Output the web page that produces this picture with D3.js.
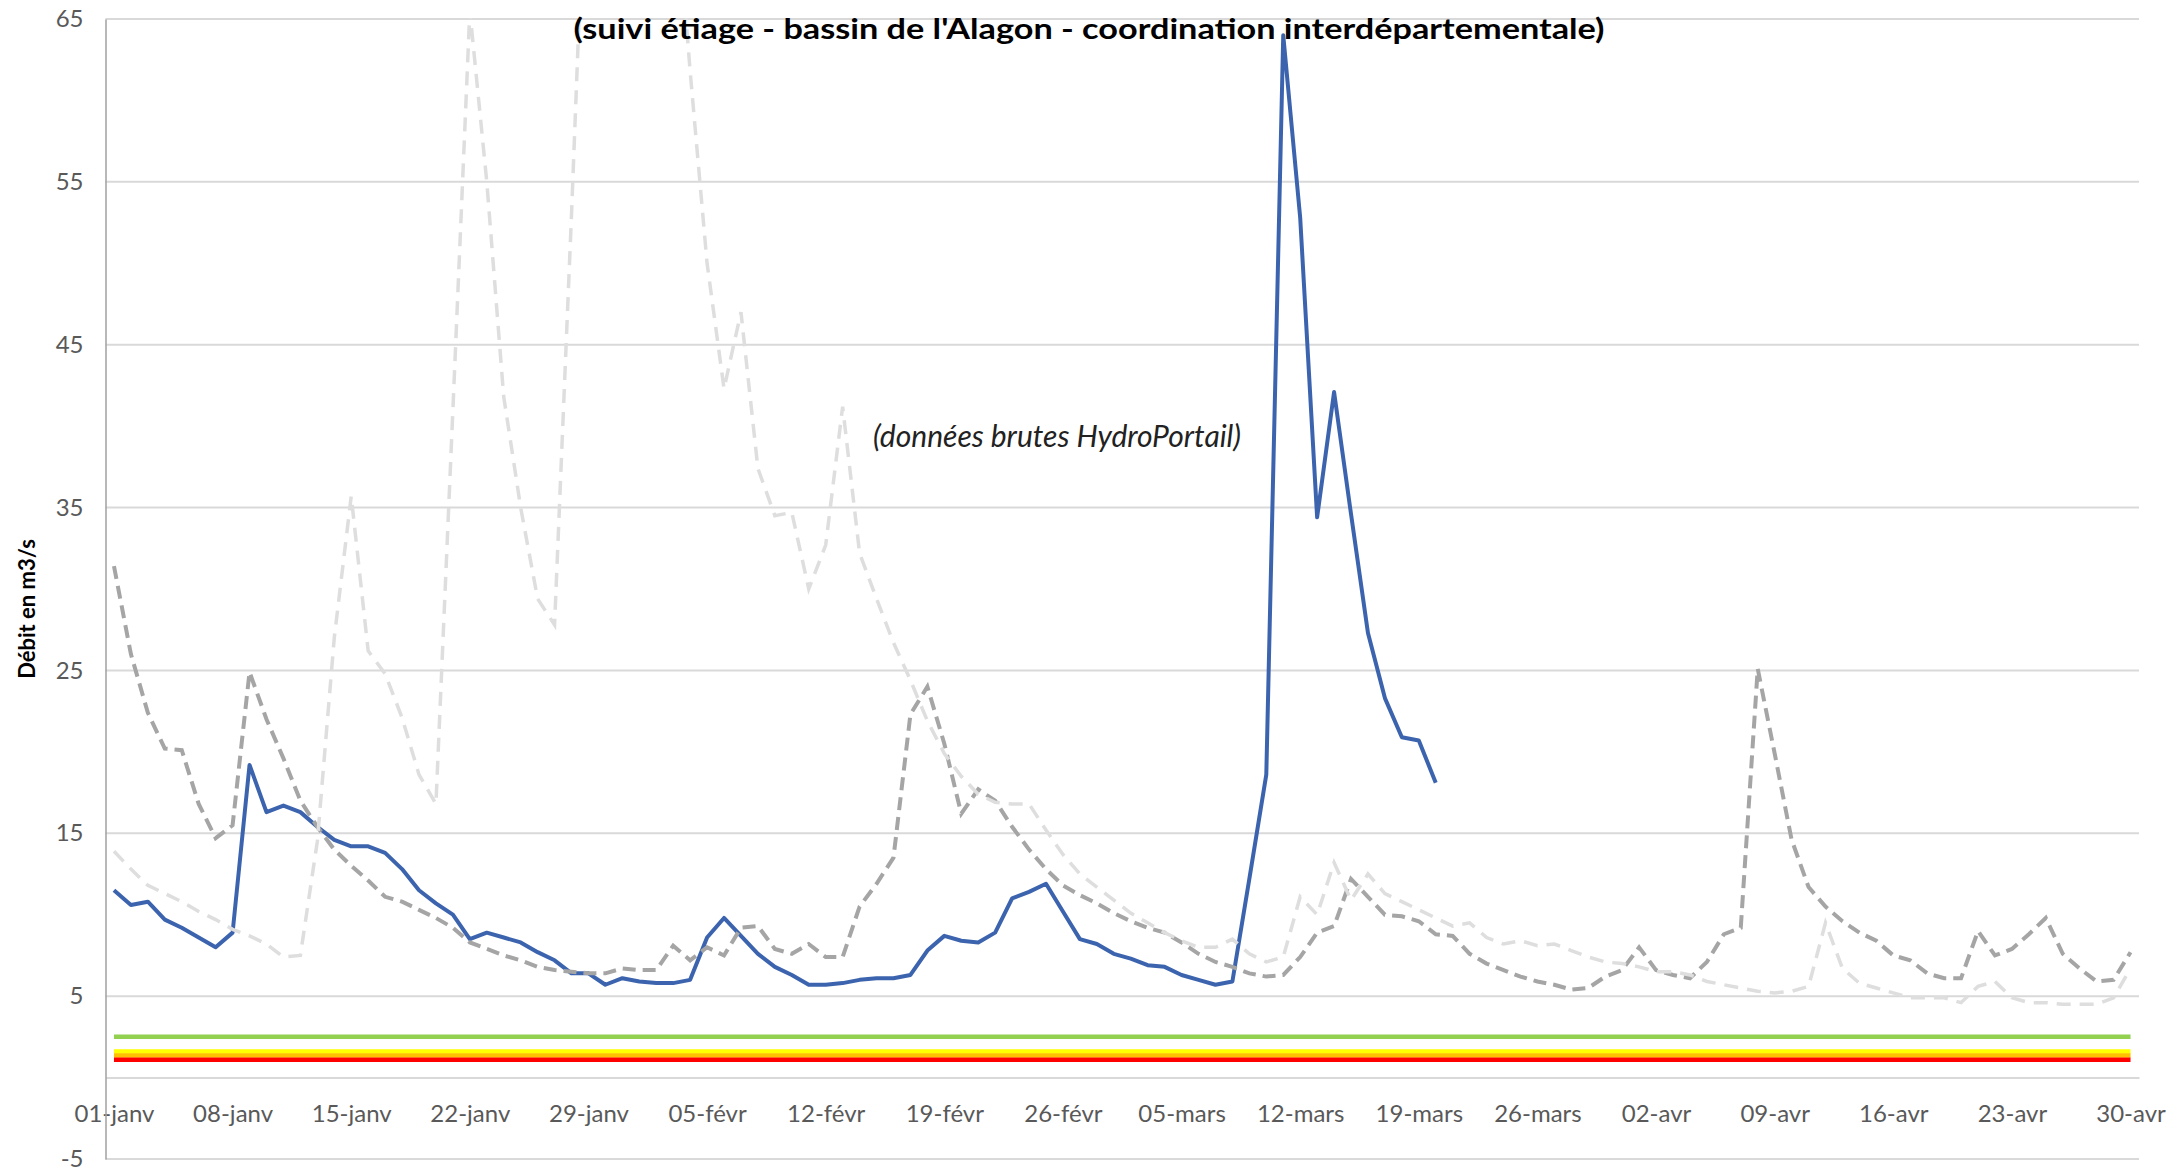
<!DOCTYPE html>
<html>
<head>
<meta charset="utf-8">
<script src="https://cdn.jsdelivr.net/npm/d3@7"></script>
<style>
	body { margin: 0; background: #fff; }
	svg { display: block; font-family: Lato, "Open Sans", sans-serif; }
	.tick text { fill: #595959; font-size: 24px; }
</style>
</head>
<body>
<svg id="chart" width="2177" height="1170"></svg>
<script>
// x categories: one point per day, 01-janv .. 30-avr (120 days)
var nDays = 120;
var tickLabels = ["01-janv", "08-janv", "15-janv", "22-janv", "29-janv", "05-févr",
	"12-févr", "19-févr", "26-févr", "05-mars", "12-mars", "19-mars", "26-mars",
	"02-avr", "09-avr", "16-avr", "23-avr", "30-avr"];
var yTicks = [-5, 5, 15, 25, 35, 45, 55, 65];

// current year (solid blue), stops on 20-mars
var debitActuel = [11.5, 10.6, 10.8, 9.7, 9.2, 8.6, 8.0, 8.9, 19.2, 16.3,
	16.7, 16.3, 15.4, 14.6, 14.2, 14.2, 13.8, 12.8, 11.5, 10.7,
	10.0, 8.5, 8.9, 8.6, 8.3, 7.7, 7.2, 6.4, 6.4, 5.7,
	6.1, 5.9, 5.8, 5.8, 6.0, 8.6, 9.8, 8.7, 7.6, 6.8,
	6.3, 5.7, 5.7, 5.8, 6.0, 6.1, 6.1, 6.3, 7.8, 8.7,
	8.4, 8.3, 8.9, 11.0, 11.4, 11.9, 10.2, 8.5, 8.2, 7.6,
	7.3, 6.9, 6.8, 6.3, 6.0, 5.7, 5.9, 12.2, 18.6, 64.0,
	52.8, 34.4, 42.1, 34.6, 27.3, 23.3, 20.9, 20.7, 18.1];

// previous year (dark grey dashes)
var debitAnneeA = [31.4, 26.0, 22.4, 20.2, 20.1, 16.8, 14.7, 15.5, 24.9, 22.0,
	19.6, 17.0, 15.4, 14.0, 13.0, 12.1, 11.1, 10.8, 10.3, 9.8,
	9.2, 8.3, 7.9, 7.5, 7.2, 6.8, 6.6, 6.5, 6.4, 6.4,
	6.7, 6.6, 6.6, 8.1, 7.2, 8.0, 7.5, 9.2, 9.3, 7.9,
	7.6, 8.2, 7.4, 7.4, 10.5, 11.9, 13.5, 22.3, 24.0, 20.5,
	16.2, 17.7, 17.0, 15.4, 14.0, 12.8, 11.8, 11.2, 10.7, 10.1,
	9.6, 9.2, 8.9, 8.3, 7.6, 7.1, 6.8, 6.4, 6.2, 6.3,
	7.4, 8.9, 9.3, 12.2, 11.1, 10.0, 9.9, 9.6, 8.8, 8.7,
	7.6, 7.0, 6.6, 6.2, 5.9, 5.7, 5.4, 5.5, 6.2, 6.6,
	8.0, 6.6, 6.3, 6.1, 7.1, 8.8, 9.2, 25.1, 19.9, 14.6,
	11.7, 10.5, 9.6, 8.9, 8.4, 7.5, 7.2, 6.4, 6.1, 6.1,
	9.0, 7.5, 7.9, 8.8, 9.8, 7.6, 6.7, 5.9, 6.0, 7.7];

// other year (light grey dashes), runs off the top of the axis in late janv
var debitAnneeB = [13.9, 12.8, 11.8, 11.3, 10.8, 10.2, 9.7, 9.1, 8.7, 8.2,
	7.4, 7.5, 14.5, 27.0, 35.7, 26.2, 24.8, 22.1, 18.6, 16.8,
	41.0, 65.5, 55.0, 41.8, 35.0, 29.4, 27.8, 53.0, 80.0, 95.0,
	100.0, 92.0, 85.0, 75.0, 61.8, 50.0, 42.3, 47.0, 37.4, 34.5,
	34.7, 30.0, 32.7, 41.2, 32.2, 29.4, 26.7, 24.4, 21.9, 19.9,
	18.5, 17.4, 16.9, 16.8, 16.8, 15.2, 13.7, 12.5, 11.7, 10.9,
	10.1, 9.5, 8.9, 8.4, 8.0, 8.0, 8.5, 7.6, 7.1, 7.4,
	11.1, 10.0, 13.2, 10.9, 12.5, 11.3, 10.8, 10.3, 9.8, 9.3,
	9.5, 8.6, 8.2, 8.4, 8.1, 8.2, 7.8, 7.4, 7.1, 7.0,
	6.8, 6.5, 6.5, 6.3, 5.9, 5.7, 5.5, 5.3, 5.2, 5.3,
	5.6, 9.5, 6.7, 5.8, 5.5, 5.2, 4.9, 4.9, 4.9, 4.6,
	5.6, 5.9, 4.9, 4.6, 4.6, 4.5, 4.5, 4.5, 4.9, 6.7];

// drought thresholds (vigilance, alerte, alerte renforcée, crise)
var seuils = [2.5, 1.6, 1.35, 1.1];
var seuilColours = ["#92d050", "#ffff00", "#ffc000", "#ff0000"];

var svg = d3.select("#chart");

var plotLeft = 105.5,
	plotRight = 2139,
	plotTop = 19,
	plotBottom = 1159;

var x = d3.scaleLinear().domain([-0.5, nDays - 0.5]).range([plotLeft, plotRight]);
var y = d3.scaleLinear().domain([-5, 65]).range([plotBottom, plotTop]);

svg.append("clipPath")
	.attr("id", "plotClip")
	.append("rect")
	.attr("x", plotLeft)
	.attr("y", plotTop - 1)
	.attr("width", plotRight - plotLeft)
	.attr("height", plotBottom - plotTop + 2);

// horizontal gridlines
svg.append("g")
	.selectAll("line")
	.data(yTicks)
	.enter()
	.append("line")
	.attr("x1", plotLeft)
	.attr("x2", plotRight)
	.attr("y1", d => y(d))
	.attr("y2", d => y(d))
	.style("stroke", "#d9d9d9")
	.style("stroke-width", 2);

// category axis, crossing at 0
var xAxis = svg
	.append("g")
	.attr("transform", "translate(0," + y(0) + ")")
	.call(
		d3.axisBottom(x)
			.tickValues(d3.range(0, nDays, 7))
			.tickFormat((d, i) => tickLabels[i])
			.tickSize(0)
			.tickSizeOuter(0)
			.tickPadding(27)
	);
xAxis.select(".domain").style("stroke", "#d9d9d9").style("stroke-width", 2);

// value axis (plain hyphen for -5, like the original)
var yAxis = svg
	.append("g")
	.attr("transform", "translate(" + plotLeft + ",0)")
	.call(
		d3.axisLeft(y)
			.tickValues(yTicks)
			.tickFormat(d => String(d))
			.tickSize(0)
			.tickSizeOuter(0)
			.tickPadding(22)
	);
yAxis.select(".domain").style("stroke", "#a0a0a0").style("stroke-width", 1.5);

// let the axis text use the page font
xAxis.attr("font-family", null).attr("font-size", null);
yAxis.attr("font-family", null).attr("font-size", null);

var line = d3
	.line()
	.x((d, i) => x(i))
	.y(d => y(d));

var plot = svg.append("g").attr("clip-path", "url(#plotClip)");

// threshold lines
plot.selectAll(".seuil")
	.data(seuils)
	.enter()
	.append("path")
	.classed("seuil", true)
	.attr("d", d => line(d3.range(nDays).map(() => d)))
	.style("fill", "none")
	.style("stroke", (d, i) => seuilColours[i])
	.style("stroke-width", 4.5);

plot.append("path")
	.attr("d", line(debitActuel))
	.style("fill", "none")
	.style("stroke", "#3c64ae")
	.style("stroke-width", 4)
	.style("stroke-linejoin", "round");

plot.append("path")
	.attr("d", line(debitAnneeA))
	.style("fill", "none")
	.style("stroke", "#a5a5a5")
	.style("stroke-width", 4)
	.style("stroke-dasharray", "13,7");

plot.append("path")
	.attr("d", line(debitAnneeB))
	.style("fill", "none")
	.style("stroke", "#dedede")
	.style("stroke-width", 3.5)
	.style("stroke-dasharray", "14,9");

// titles
svg.append("text")
	.attr("x", 1089)
	.attr("y", 39)
	.attr("text-anchor", "middle")
	.attr("textLength", 1031)
	.attr("lengthAdjust", "spacingAndGlyphs")
	.style("font-size", "29px")
	.style("font-weight", "bold")
	.style("fill", "#000")
	.text("(suivi étiage - bassin de l'Alagon - coordination interdépartementale)");

svg.append("text")
	.attr("x", 1057)
	.attr("y", 447)
	.attr("text-anchor", "middle")
	.style("font-size", "30px")
	.style("font-style", "italic")
	.style("fill", "#222")
	.text("(données brutes HydroPortail)");

svg.append("text")
	.attr("transform", "translate(26,609) rotate(-90)")
	.attr("text-anchor", "middle")
	.attr("dominant-baseline", "central")
	.style("font-size", "22px")
	.style("font-weight", "bold")
	.style("fill", "#000")
	.text("Débit en m3/s");
</script>
</body>
</html>
